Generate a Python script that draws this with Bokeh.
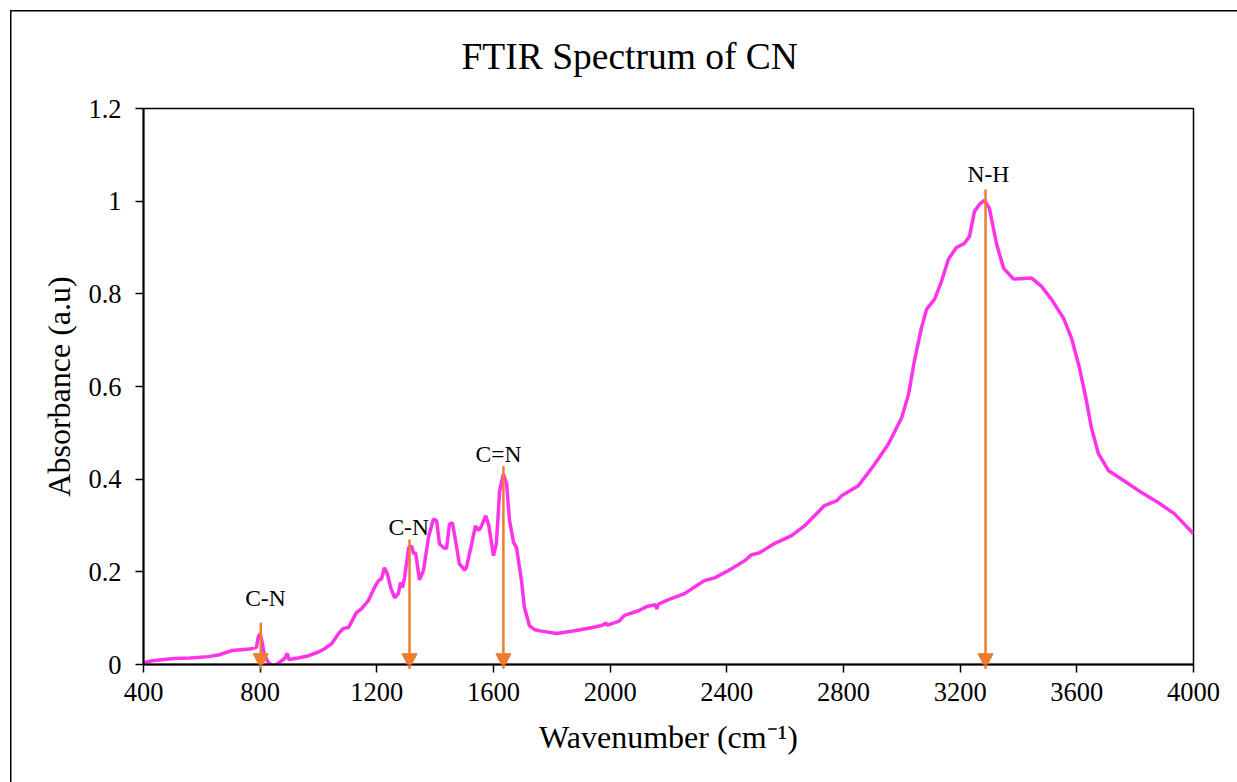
from bokeh.plotting import figure
from bokeh.models import FixedTicker, Arrow, NormalHead, ColumnDataSource, Range1d
from bokeh.core.properties import value
from bokeh.embed import file_html
from bokeh.resources import INLINE

# ---- data ----
wavenumber = [400, 430, 470, 506, 560, 623, 660, 702, 736, 770, 787, 794, 800, 806, 815, 828, 846, 865,
              884, 893, 898, 930, 966, 1000, 1021, 1045, 1070, 1086, 1103, 1130, 1147, 1171, 1195, 1206,
              1216, 1226, 1236, 1248, 1261, 1274, 1281, 1288, 1295, 1309, 1319, 1326, 1333, 1346, 1360,
              1377, 1394, 1405, 1415, 1429, 1439, 1449, 1459, 1470, 1483, 1501, 1507, 1525, 1538, 1549,
              1559, 1573, 1583, 1600, 1610, 1621, 1634, 1645, 1655, 1669, 1679, 1696, 1706, 1723, 1741,
              1765, 1816, 1878, 1940, 1970, 1980, 1984, 1990, 2029, 2049, 2097, 2125, 2155, 2160, 2165,
              2200, 2255, 2296, 2323, 2358, 2406, 2461, 2485, 2512, 2563, 2622, 2666, 2735, 2776, 2793,
              2851, 2903, 2954, 2999, 3023, 3043, 3067, 3085, 3112, 3136, 3160, 3187, 3215, 3232, 3249,
              3266, 3283, 3300, 3325, 3349, 3383, 3445, 3479, 3513, 3554, 3582, 3609, 3633, 3650, 3674,
              3709, 3763, 3822, 3880, 3935, 4000]
absorbance = [0.004, 0.008, 0.011, 0.013, 0.014, 0.017, 0.021, 0.030, 0.032, 0.034, 0.037, 0.060, 0.067,
              0.050, 0.020, 0.004, -0.004, 0.004, 0.013, 0.024, 0.011, 0.014, 0.019, 0.027, 0.034, 0.045,
              0.068, 0.078, 0.080, 0.112, 0.120, 0.138, 0.170, 0.181, 0.185, 0.209, 0.196, 0.165, 0.144,
              0.153, 0.177, 0.166, 0.187, 0.252, 0.256, 0.239, 0.241, 0.183, 0.203, 0.274, 0.314, 0.310,
              0.260, 0.252, 0.250, 0.303, 0.306, 0.267, 0.217, 0.204, 0.209, 0.260, 0.299, 0.289, 0.299,
              0.321, 0.303, 0.235, 0.262, 0.375, 0.411, 0.390, 0.310, 0.263, 0.252, 0.181, 0.123, 0.084,
              0.075, 0.072, 0.067, 0.073, 0.080, 0.084, 0.087, 0.090, 0.085, 0.093, 0.106, 0.116, 0.125,
              0.129, 0.120, 0.130, 0.140, 0.153, 0.170, 0.181, 0.187, 0.203, 0.224, 0.237, 0.241, 0.261,
              0.278, 0.299, 0.343, 0.353, 0.364, 0.386, 0.429, 0.476, 0.532, 0.583, 0.655, 0.726, 0.767,
              0.788, 0.827, 0.875, 0.900, 0.909, 0.924, 0.978, 0.993, 1.002, 0.985, 0.907, 0.855, 0.832,
              0.834, 0.816, 0.788, 0.748, 0.704, 0.640, 0.569, 0.511, 0.455, 0.418, 0.396, 0.371, 0.349,
              0.325, 0.282]

peak_labels = ["C-N", "C-N", "C=N", "N-H"]
peak_x = [802, 1312, 1634, 3287]
arrow_top = [0.09, 0.27, 0.428, 1.025]
arrow_tip = [-0.009, -0.009, -0.009, -0.009]
label_x = [818, 1309, 1617, 3297]
label_y = [0.144, 0.297, 0.455, 1.058]

x_ticks = [400, 800, 1200, 1600, 2000, 2400, 2800, 3200, 3600, 4000]
y_ticks = [0, 0.2, 0.4, 0.6, 0.8, 1.0, 1.2]
y_tick_labels = ["0", "0.2", "0.4", "0.6", "0.8", "1", "1.2"]

FONT = "Liberation Serif"

p = figure(width=1227, height=782, output_backend="svg", toolbar_location=None,
           x_range=Range1d(400, 4000), y_range=Range1d(0, 1.2),
           min_border_left=133, min_border_right=44, min_border_top=108, min_border_bottom=118)
p.margin = (0, 0, 0, 10)
p.border_fill_color = None
# outer chart border (left edge and a top edge 10px down), drawn behind the transparent canvas border
p.styles = {"background": "linear-gradient(#000,#000) 0 10px / 1.5px 100% no-repeat, "
                          "linear-gradient(#000,#000) 0 10px / 100% 1.5px no-repeat, white"}

p.title.text = "FTIR Spectrum of CN"
p.title.align = "left"
p.title.offset = 318
p.title.text_font = FONT
p.title.text_font_style = "normal"
p.title.text_font_size = "37.5px"
p.title.text_color = "black"
p.title.standoff = 64

p.line(wavenumber, absorbance, line_color="#FF33E8", line_width=3.5)

for i in range(len(peak_x)):
    p.add_layout(Arrow(end=NormalHead(size=15, fill_color="#ED7D31", line_color="#ED7D31"),
                       x_start=peak_x[i], y_start=arrow_top[i], x_end=peak_x[i], y_end=arrow_tip[i],
                       line_color="#ED7D31", line_width=2.5))

src = ColumnDataSource(dict(x=label_x, y=label_y, t=peak_labels))
p.text(x="x", y="y", text="t", source=src, text_align="center", text_baseline="middle",
       text_font=value(FONT), text_font_size="23.5px", text_color="black")

p.xgrid.visible = False
p.ygrid.visible = False
p.outline_line_color = "black"
p.outline_line_width = 1.5
p.outline_line_alpha = 1.0

p.xaxis.ticker = FixedTicker(ticks=x_ticks)
p.yaxis.ticker = FixedTicker(ticks=y_ticks)
p.yaxis.major_label_overrides = {t: l for t, l in zip(y_ticks, y_tick_labels)}
p.xaxis.major_label_overrides = {t: str(t) for t in x_ticks}

for ax in (p.xaxis[0], p.yaxis[0]):
    ax.axis_line_color = "black"
    ax.axis_line_width = 2
    ax.major_tick_line_color = "black"
    ax.major_tick_line_width = 1.5
    ax.major_tick_out = 8
    ax.major_tick_in = 0
    ax.minor_tick_line_color = None
    ax.major_label_text_font = FONT
    ax.major_label_text_font_size = "26.5px"
    ax.major_label_text_color = "black"
    ax.axis_label_text_font = FONT
    ax.axis_label_text_font_size = "32px"
    ax.axis_label_text_font_style = "normal"
    ax.axis_label_text_color = "black"

p.xaxis.axis_label = "Wavenumber (cm\u207b\u00b9)"
p.yaxis.axis_label = "Absorbance (a.u)"
p.xaxis.major_label_standoff = 10
p.yaxis.major_label_standoff = 14
p.xaxis.axis_label_standoff = 15
p.yaxis.axis_label_standoff = 8

open("out.html", "w").write(file_html(p, INLINE))
